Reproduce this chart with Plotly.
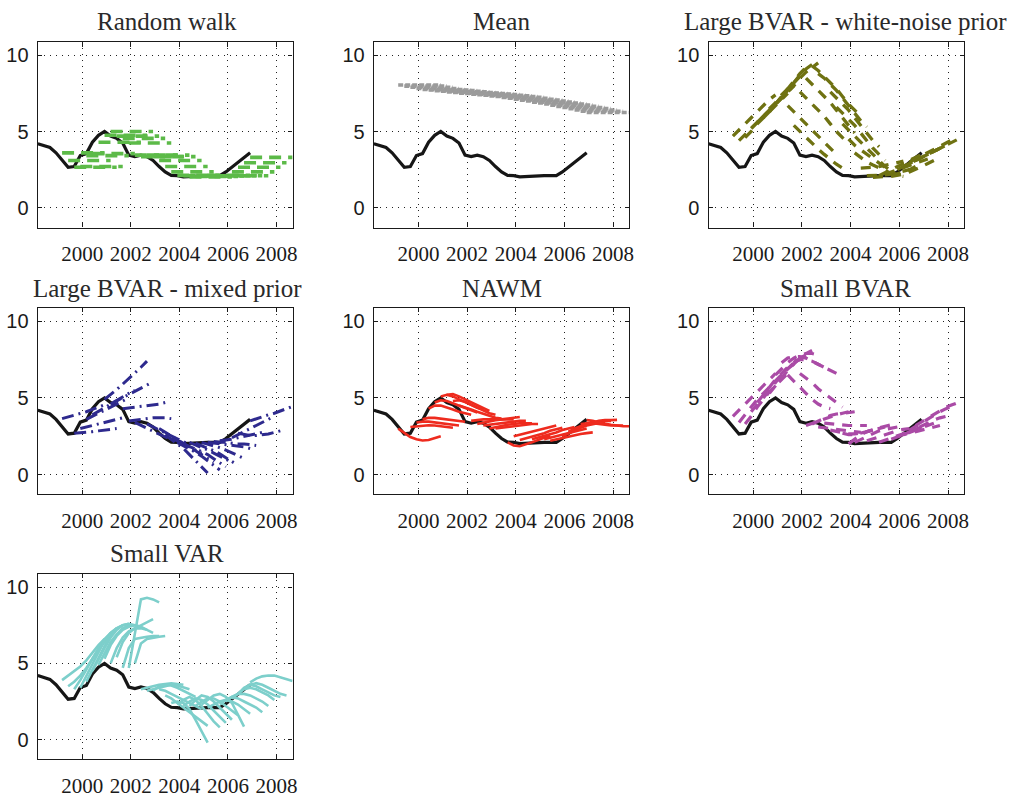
import plotly.graph_objects as go

# Short-term interest rate, quarterly 1998Q1-2006Q4 (percent)
actual = [4.2, 4.05, 3.95, 3.6, 3.1, 2.65, 2.7, 3.42, 3.55, 4.3, 4.75, 5.0,
          4.7, 4.55, 4.25, 3.45, 3.35, 3.45, 3.35, 3.1, 2.7, 2.35, 2.12, 2.1,
          2.02, 2.05, 2.08, 2.12, 2.1, 2.1, 2.1, 2.35, 2.65, 2.95, 3.3, 3.6]

# forecast origins (quarter index counted from 1998Q1) and horizon
origins = list(range(3, 35))
horizon = 8

# Random walk: flat forecast at the last observed value, one per origin
rw_levels = [3.6, 3.1, 2.65, 2.7, 3.42, 3.55, 4.3, 4.75, 5.0, 4.7, 4.55, 4.25,
             3.45, 3.35, 3.45, 3.35, 3.1, 2.7, 2.35, 2.12, 2.1, 2.02, 2.05, 2.08,
             2.12, 2.1, 2.1, 2.1, 2.35, 2.65, 2.95, 3.3]

# Mean: flat forecast at the recursive sample mean, one per origin
mean_levels = [8.05, 7.98, 7.90, 7.82, 7.76, 7.72, 7.68, 7.64, 7.60, 7.56, 7.52,
               7.49, 7.45, 7.42, 7.38, 7.34, 7.30, 7.24, 7.18, 7.12, 7.06, 7.00,
               6.93, 6.87, 6.80, 6.73, 6.65, 6.58, 6.50, 6.41, 6.33, 6.25]

# Model forecast paths: (origin quarter, forecasts for the following quarters)
wn_paths = [
    (3, [4.7, 5.1, 5.5, 5.9, 6.3, 6.7, 7.1, 7.4]),
    (4, [4.4, 4.8, 5.2, 5.6, 6.0, 6.4, 6.8, 7.2]),
    (5, [4.6, 5.0, 5.5, 5.9, 6.3, 6.7, 7.1, 7.5]),
    (6, [5.2, 5.6, 6.0, 6.4, 6.8, 7.2, 7.6, 8.0]),
    (7, [5.6, 6.0, 6.5, 6.9, 7.4, 7.8, 8.2, 8.6]),
    (8, [5.9, 6.3, 6.8, 7.3, 7.8, 8.3, 8.8, 9.2]),
    (9, [6.3, 6.8, 7.2, 7.7, 8.2, 8.7, 9.1, 9.4]),
    (10, [6.8, 7.2, 7.6, 8.0, 8.5, 8.9, 9.2, 9.5]),
    (12, [6.7, 6.3, 5.9, 5.5, 5.1, 4.7, 4.3, 3.9, 3.5]),
    (13, [5.4, 5.0, 4.6, 4.2, 3.85, 3.5, 3.15, 2.85, 2.6]),
    (14, [7.6, 7.2, 6.8, 6.4, 6.0, 5.5, 5.0, 4.6, 4.2]),
    (15, [8.5, 8.1, 7.7, 7.3, 6.9, 6.4, 5.9, 5.4, 4.9]),
    (16, [9.3, 9.0, 8.6, 8.2, 7.8, 7.3, 6.8, 6.4, 6.0]),
    (17, [8.8, 8.5, 8.1, 7.7, 7.2, 6.7, 6.2, 5.7, 5.3]),
    (19, [7.6, 7.2, 6.8, 6.4, 5.9, 5.4, 4.9, 4.4, 4.0]),
    (20, [6.6, 6.2, 5.8, 5.4, 4.9, 4.4, 3.9, 3.5, 3.1]),
    (21, [5.5, 5.1, 4.7, 4.3, 3.9, 3.5, 3.1, 2.7, 2.4]),
    (22, [4.5, 4.1, 3.8, 3.5, 3.2, 2.9, 2.6, 2.35, 2.15]),
    (23, [3.6, 3.3, 3.0, 2.8, 2.6, 2.4, 2.25, 2.1, 2.05]),
    (24, [2.6, 2.6, 2.65, 2.7, 2.8, 2.9, 3.0, 3.05]),
    (25, [2.1, 2.1, 2.1, 2.15, 2.2, 2.3, 2.4, 2.5]),
    (26, [2.0, 2.0, 2.05, 2.1, 2.2, 2.35, 2.5, 2.7]),
    (27, [2.1, 2.3, 2.5, 2.7, 2.9, 3.1, 3.3, 3.5]),
    (28, [2.2, 2.35, 2.5, 2.65, 2.8, 2.95, 3.1, 3.2]),
    (29, [2.05, 2.1, 2.2, 2.35, 2.5, 2.7, 2.9, 3.1]),
    (30, [2.5, 2.7, 2.9, 3.1, 3.3, 3.5, 3.7, 3.9]),
    (31, [2.7, 2.9, 3.1, 3.3, 3.5, 3.7, 3.9, 4.1]),
    (32, [3.0, 3.2, 3.4, 3.6, 3.8, 4.0, 4.2, 4.45]),
    (33, [3.1, 3.3, 3.5, 3.7, 3.9, 4.05, 4.25, 4.5]),
]

mx_paths = [
    (3, [3.65, 3.75, 3.85, 3.95, 4.1, 4.25, 4.4, 4.55]),
    (5, [2.7, 2.72, 2.75, 2.8, 2.85, 2.9, 2.95, 3.0]),
    (6, [3.0, 3.1, 3.2, 3.3, 3.4, 3.5, 3.6, 3.7]),
    (7, [3.6, 3.8, 4.0, 4.2, 4.4, 4.6, 4.8, 5.0]),
    (8, [3.9, 4.1, 4.35, 4.6, 4.85, 5.1, 5.3, 5.5]),
    (10, [4.9, 5.2, 5.55, 5.9, 6.25, 6.6, 7.0, 7.4]),
    (11, [4.6, 4.8, 5.0, 5.2, 5.4, 5.6, 5.8, 6.05]),
    (13, [4.3, 4.35, 4.4, 4.45, 4.5, 4.55, 4.6, 4.7]),
    (14, [3.5, 3.55, 3.6, 3.65, 3.7, 3.7, 3.7, 3.65]),
    (15, [3.4, 3.2, 3.0, 2.8, 2.6, 2.45, 2.3, 2.15]),
    (17, [3.3, 3.1, 2.9, 2.7, 2.5, 2.3, 2.1, 1.95]),
    (19, [3.0, 2.75, 2.5, 2.25, 2.0, 1.8, 1.6, 1.4]),
    (20, [2.6, 2.3, 2.0, 1.7, 1.3, 0.9, 0.5, 0.1]),
    (21, [2.4, 2.2, 2.0, 1.8, 1.55, 1.3, 1.05, 0.8]),
    (22, [2.1, 1.9, 1.7, 1.45, 1.2, 0.9, 0.6, 0.3]),
    (23, [2.0, 1.85, 1.7, 1.5, 1.3, 1.05, 0.8, 0.5]),
    (24, [2.1, 1.95, 1.8, 1.6, 1.4, 1.2, 1.0, 0.8]),
    (25, [2.05, 1.9, 1.75, 1.55, 1.35, 1.1, 0.85, 0.6]),
    (26, [2.1, 2.0, 1.9, 1.75, 1.6, 1.4, 1.2, 1.05]),
    (27, [2.1, 2.05, 2.0, 1.95, 1.9, 1.85, 1.8, 1.7]),
    (28, [2.15, 2.1, 2.1, 2.05, 2.0, 2.0, 1.95, 1.9]),
    (29, [2.2, 2.25, 2.3, 2.4, 2.5, 2.6, 2.65, 2.75]),
    (31, [2.4, 2.6, 2.8, 3.0, 3.2, 3.45, 3.65, 3.8]),
    (32, [2.7, 2.6, 2.55, 2.55, 2.6, 2.65, 2.75, 2.85]),
    (34, [3.5, 3.65, 3.8, 3.9, 4.0, 4.15, 4.3, 4.45]),
]

nawm_paths = [
    (3, [3.0, 2.7, 2.45, 2.3, 2.22, 2.25, 2.35, 2.5]),
    (5, [3.1, 3.15, 3.2, 3.22, 3.2, 3.15, 3.1, 3.05]),
    (6, [3.4, 3.45, 3.45, 3.4, 3.35, 3.3, 3.25, 3.2]),
    (7, [3.6, 3.7, 3.7, 3.65, 3.6, 3.55, 3.5, 3.45]),
    (8, [4.3, 4.5, 4.5, 4.4, 4.25, 4.1, 4.0, 3.9]),
    (9, [4.7, 4.85, 4.8, 4.65, 4.45, 4.3, 4.15, 4.05]),
    (10, [5.1, 5.2, 5.1, 4.9, 4.7, 4.5, 4.35, 4.25]),
    (11, [5.2, 5.25, 5.1, 4.9, 4.7, 4.5, 4.3, 4.15]),
    (12, [4.8, 4.85, 4.75, 4.55, 4.35, 4.15, 4.0, 3.9]),
    (13, [4.5, 4.4, 4.25, 4.1, 3.95, 3.8, 3.7, 3.65]),
    (15, [3.5, 3.55, 3.6, 3.6, 3.6, 3.6, 3.6, 3.6]),
    (16, [3.3, 3.4, 3.5, 3.55, 3.6, 3.65, 3.7, 3.75]),
    (17, [3.2, 3.25, 3.3, 3.35, 3.4, 3.45, 3.5, 3.5]),
    (18, [3.0, 3.1, 3.2, 3.25, 3.3, 3.35, 3.35, 3.35]),
    (19, [3.0, 3.05, 3.1, 3.15, 3.2, 3.25, 3.3, 3.3]),
    (21, [2.1, 1.9, 1.85, 1.95, 2.1, 2.25, 2.4, 2.55]),
    (22, [2.5, 2.6, 2.7, 2.8, 2.9, 3.0, 3.1, 3.2]),
    (23, [2.25, 2.35, 2.45, 2.55, 2.7, 2.85, 2.95, 3.05]),
    (25, [2.3, 2.4, 2.5, 2.6, 2.75, 2.9, 3.0, 3.1]),
    (27, [2.3, 2.4, 2.5, 2.6, 2.7, 2.8, 2.9, 3.0]),
    (28, [2.2, 2.3, 2.4, 2.5, 2.6, 2.65, 2.7, 2.75]),
    (30, [2.5, 2.7, 2.9, 3.05, 3.2, 3.3, 3.4, 3.45]),
    (31, [2.8, 3.0, 3.15, 3.3, 3.4, 3.45, 3.5, 3.5]),
    (32, [3.0, 3.15, 3.3, 3.4, 3.5, 3.55, 3.55, 3.57]),
    (33, [3.3, 3.35, 3.35, 3.3, 3.25, 3.2, 3.2, 3.2]),
    (34, [3.55, 3.5, 3.4, 3.3, 3.25, 3.2, 3.15, 3.15]),
]

sbvar_paths = [
    (3, [3.8, 4.2, 4.6, 5.0, 5.4, 5.8, 6.2, 6.6]),
    (4, [3.4, 3.9, 4.4, 4.9, 5.3, 5.7, 6.1, 6.5]),
    (5, [3.3, 3.8, 4.4, 4.9, 5.4, 5.8, 6.2, 6.6]),
    (6, [4.1, 4.6, 5.1, 5.6, 6.1, 6.5, 6.9, 7.2]),
    (7, [4.7, 5.2, 5.7, 6.2, 6.6, 7.0, 7.3, 7.5]),
    (8, [5.0, 5.5, 6.0, 6.5, 6.9, 7.3, 7.6, 7.8]),
    (9, [5.3, 5.8, 6.3, 6.8, 7.2, 7.6, 7.9, 8.1]),
    (10, [6.5, 6.9, 7.3, 7.6, 7.8, 7.9, 7.9, 7.8]),
    (11, [7.3, 7.6, 7.7, 7.7, 7.6, 7.4, 7.2, 7.0]),
    (12, [6.5, 6.1, 5.7, 5.3, 4.9, 4.6, 4.4, 4.3]),
    (13, [7.4, 7.5, 7.5, 7.4, 7.2, 7.0, 6.8, 6.6]),
    (14, [6.6, 6.3, 6.0, 5.6, 5.3, 5.0, 4.7, 4.4]),
    (15, [3.2, 3.35, 3.5, 3.65, 3.8, 3.9, 4.0, 4.1]),
    (16, [3.3, 3.5, 3.7, 3.85, 3.95, 4.0, 4.05, 4.1]),
    (17, [3.1, 3.05, 3.0, 2.95, 2.9, 2.85, 2.8, 2.75]),
    (18, [3.35, 3.3, 3.25, 3.2, 3.2, 3.2, 3.2, 3.2]),
    (19, [2.9, 2.8, 2.7, 2.65, 2.65, 2.7, 2.8, 2.9]),
    (21, [2.7, 2.6, 2.6, 2.7, 2.8, 2.9, 3.0, 3.1]),
    (22, [2.0, 2.3, 2.6, 2.8, 2.95, 3.05, 3.15, 3.25]),
    (23, [2.1, 2.3, 2.5, 2.7, 2.85, 2.95, 3.05, 3.1]),
    (25, [2.2, 2.3, 2.45, 2.6, 2.75, 2.85, 2.95, 3.0]),
    (27, [2.1, 2.25, 2.4, 2.55, 2.7, 2.85, 3.0, 3.1]),
    (29, [2.3, 2.45, 2.6, 2.75, 2.9, 3.05, 3.2, 3.35]),
    (30, [2.5, 2.6, 2.7, 2.8, 2.9, 3.0, 3.1, 3.2]),
    (31, [2.6, 2.8, 3.0, 3.2, 3.4, 3.55, 3.7, 3.8]),
    (32, [2.9, 3.15, 3.4, 3.65, 3.9, 4.1, 4.3, 4.45]),
    (33, [3.2, 3.45, 3.7, 3.95, 4.2, 4.4, 4.55, 4.7]),
]

svar_paths = [
    (3, [3.9, 4.2, 4.5, 4.8, 5.2, 5.7, 6.2, 6.6]),
    (4, [3.5, 3.8, 4.2, 4.7, 5.3, 5.9, 6.4, 6.8]),
    (5, [3.3, 3.9, 4.6, 5.3, 6.0, 6.6, 7.0, 7.3]),
    (6, [3.4, 4.2, 5.0, 5.8, 6.5, 7.0, 7.3, 7.5]),
    (7, [3.8, 4.6, 5.4, 6.2, 6.9, 7.3, 7.5, 7.6]),
    (8, [4.5, 5.3, 6.0, 6.7, 7.2, 7.5, 7.6, 7.5]),
    (9, [4.9, 5.7, 6.4, 6.9, 7.3, 7.5, 7.5, 7.4]),
    (10, [5.3, 6.2, 6.8, 7.2, 7.4, 7.5, 7.4, 7.2]),
    (11, [5.0, 6.0, 6.7, 7.1, 7.3, 7.3, 7.2, 7.0]),
    (12, [5.4, 6.4, 7.0, 7.3, 7.5, 7.7, 7.9]),
    (13, [4.7, 6.0, 6.6, 6.7, 6.75, 6.8, 6.8]),
    (14, [4.7, 7.0, 9.2, 9.3, 9.2, 9.0]),
    (15, [5.0, 6.3, 6.6, 6.7, 6.75, 6.8]),
    (16, [3.3, 3.4, 3.5, 3.6, 3.65, 3.7, 3.65, 3.6]),
    (17, [3.2, 3.3, 3.45, 3.55, 3.6, 3.55, 3.45, 3.3]),
    (18, [3.2, 3.5, 3.6, 3.55, 3.4, 3.2, 3.0, 2.8]),
    (19, [3.3, 3.2, 3.0, 2.8, 2.6, 2.4, 2.2, 2.0]),
    (20, [2.9, 2.7, 2.4, 2.1, 1.8, 1.5, 1.2, 0.9]),
    (21, [2.4, 2.5, 2.4, 2.0, 1.3, 0.5, -0.2]),
    (22, [2.3, 2.6, 2.8, 2.6, 2.2, 1.7, 1.2, 0.8]),
    (23, [2.2, 2.5, 2.7, 2.6, 2.3, 1.9, 1.5, 1.1]),
    (24, [2.2, 2.6, 2.9, 2.8, 2.5, 2.1, 1.7, 1.3]),
    (25, [2.2, 2.5, 2.7, 2.7, 2.5, 2.2, 1.9, 1.6]),
    (26, [2.3, 2.6, 2.9, 3.0, 2.8, 2.4, 1.6, 0.85]),
    (27, [2.1, 2.3, 2.5, 2.6, 2.5, 2.3, 2.0, 1.7]),
    (29, [2.3, 2.6, 2.8, 2.7, 2.5, 2.3, 2.1, 1.8]),
    (30, [2.5, 2.8, 3.0, 3.0, 2.9, 2.7, 2.5, 2.2]),
    (31, [2.7, 3.0, 3.3, 3.4, 3.3, 3.1, 2.9, 2.6]),
    (32, [3.0, 3.4, 3.6, 3.5, 3.3, 3.1, 2.9, 2.8]),
    (33, [3.3, 3.6, 3.7, 3.6, 3.4, 3.2, 3.0, 2.9]),
    (34, [3.75, 4.0, 4.15, 4.2, 4.2, 4.1, 4.0, 3.85]),
]

panel_titles = ["Random walk", "Mean", "Large BVAR - white-noise prior",
                "Large BVAR - mixed prior", "NAWM", "Small BVAR", "Small VAR"]
year_ticks = [2000, 2002, 2004, 2006, 2008]
rate_ticks = [0, 5, 10]


def qdate(n):
    """Mid-quarter date of quarter n counted from 1998Q1."""
    return 1998 + (3 * n + 2) / 12.0


# panel boxes in pixels (left, right, top, bottom) for a 1030x798 page
W, H = 1030, 798
cols_px = [(38, 294), (375.7, 632.3), (712, 969)]
rows_px = [(43, 231), (313, 502), (583, 771)]
title_x_px = [168, 504, 850]
title_y_px = [22, 293, 562]

black = "#161616"
styles = [
    dict(color="#5cba48", width=3.6, dash="12px,7px"),
    dict(color="#9b9b9b", width=3.6, dash="5px,2px"),
    dict(color="#6f7212", width=3.3, dash="10px,8px"),
    dict(color="#2e2a8e", width=3.0, dash="12px,5px,2px,5px"),
    dict(color="#ee2b1e", width=2.6, dash="solid"),
    dict(color="#aa4ba6", width=3.2, dash="10px,8px"),
    dict(color="#7dcfcb", width=2.6, dash="solid"),
]

# flat forecasts become paths of constant value
rw_paths = [(k, [lvl] * horizon) for k, lvl in zip(origins, rw_levels)]
mean_paths = [(k, [lvl] * horizon) for k, lvl in zip(origins, mean_levels)]
all_paths = [rw_paths, mean_paths, wn_paths, mx_paths, nawm_paths,
             sbvar_paths, svar_paths]

fig = go.Figure()
annotations = []
x_dates = [qdate(n) for n in range(len(actual))]

for p, paths in enumerate(all_paths):
    r, c = divmod(p, 3)
    sfx = "" if p == 0 else str(p + 1)
    xa, ya = "x" + sfx, "y" + sfx

    fig.add_trace(go.Scatter(x=x_dates, y=actual, mode="lines",
                             line=dict(color=black, width=3.2),
                             xaxis=xa, yaxis=ya, showlegend=False,
                             hoverinfo="skip"))
    for k, vals in paths:
        xs = [qdate(k + 1 + h) for h in range(len(vals))]
        fig.add_trace(go.Scatter(x=xs, y=vals, mode="lines",
                                 line=styles[p], xaxis=xa, yaxis=ya,
                                 showlegend=False, hoverinfo="skip"))

    common = dict(showline=True, linecolor="#1a1a1a", linewidth=1.4,
                  mirror="allticks", ticks="inside", ticklen=4,
                  tickcolor="#1a1a1a", tickwidth=1, zeroline=False,
                  showgrid=True, gridcolor="#222222", gridwidth=1,
                  griddash="1px,5px", fixedrange=True)
    l, rr = cols_px[c]
    t, b = rows_px[r]
    fig.layout["xaxis" + sfx] = dict(
        common, domain=[l / W, rr / W], anchor=ya,
        range=[qdate(0), qdate(42)], tickvals=year_ticks,
        ticktext=[str(v) for v in year_ticks], ticklabelstandoff=7,
        tickfont=dict(family="Liberation Serif", size=21, color="#1a1a1a"))
    fig.layout["yaxis" + sfx] = dict(
        common, domain=[1 - b / H, 1 - t / H], anchor=xa,
        range=[-1.3, 10.85], tickvals=rate_ticks,
        ticktext=[str(v) for v in rate_ticks], ticklabelstandoff=4,
        tickfont=dict(family="Liberation Sans", size=20, color="#1a1a1a"))

    annotations.append(dict(
        text=panel_titles[p], xref="paper", yref="paper",
        x=title_x_px[c] / W, y=1 - title_y_px[r] / H,
        xanchor="center", yanchor="middle", showarrow=False,
        font=dict(family="Liberation Serif", size=25, color="#2a2a2a")))

fig.update_layout(width=W, height=H, margin=dict(l=0, r=0, t=0, b=0),
                  paper_bgcolor="white", plot_bgcolor="white",
                  annotations=annotations)

fig.write_html("out.html", config={"displayModeBar": False})
